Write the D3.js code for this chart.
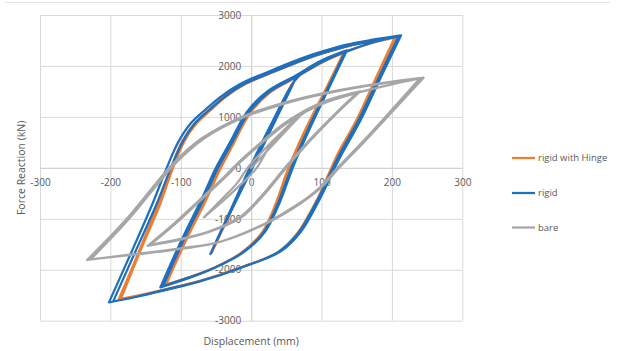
<!DOCTYPE html>
<html lang="en">
<head>
    <meta charset="UTF-8">
    <script src="https://cdnjs.cloudflare.com/ajax/libs/d3/7.8.5/d3.min.js" type="text/JavaScript"></script>
    <style>
        body { margin: 0; background: #fff; }
        text { font-family: "Open Sans", "Liberation Sans", sans-serif; fill: #595959; }
    </style>
</head>
<body>
<div id="viz"></div>
<script>
    // tick values
    const xTicks = [-300, -200, -100, 0, 100, 200, 300];
    const yTicks = [-3000, -2000, -1000, 0, 1000, 2000, 3000];

    const seriesNames = ['rigid with Hinge', 'rigid', 'bare'];

    // [displacement mm, force kN], in loading order
    const hinge = [
        [0, 0], [30, 850], [61, 1700],
        [31, 850], [0, 0], [-28, -820], [-56, -1670],
        [-28, -840], [0, 0], [31, 890], [62, 1720], [85, 1980], [107, 2140], [132, 2260],
        [107, 1530], [81, 810], [61, 200], [51, -150], [37, -700], [18, -1250], [-11, -1650], [-50, -1945], [-89, -2160], [-124, -2300],
        [-95, -1440], [-65, -600], [-45, 0], [-26, 500], [-4, 1090], [24, 1490], [63, 1800], [98, 2080], [131, 2250],
        [105, 1520], [79, 810], [59, 200], [49, -150], [35, -700], [16, -1255], [-13, -1655], [-52, -1955], [-90, -2155], [-121, -2295],
        [-93, -1440], [-63, -600], [-43, 0], [-24, 500], [-1, 1080], [27, 1480], [66, 1790], [101, 2070], [136, 2280], [172, 2450], [206, 2565],
        [180, 1800], [152, 950], [126, 300], [114, -50], [96, -600], [69, -1260], [41, -1635], [-15, -1955], [-72, -2215], [-119, -2375], [-155, -2490], [-188, -2580],
        [-160, -1660], [-132, -700], [-114, 0], [-98, 520], [-81, 865], [-61, 1125], [-40, 1385], [-13, 1640], [23, 1872], [70, 2135], [98, 2265], [136, 2410], [172, 2500], [204, 2560],
        [178, 1790], [150, 950], [124, 300], [112, -60], [94, -610], [66, -1275], [39, -1645], [-17, -1970], [-74, -2230], [-120, -2390], [-155, -2490], [-185, -2570],
        [-158, -1650], [-129, -700], [-111, 0], [-95, 520], [-78, 865], [-58, 1125], [-37, 1385], [-8, 1645], [29, 1865], [76, 2125], [104, 2255], [140, 2395], [174, 2490], [200, 2545]
    ];

    const rigid = [
        [0, 0], [30, 860], [62, 1720],
        [32, 860], [2, 0], [-28, -830], [-58, -1690],
        [-30, -850], [-2, 0], [30, 900], [63, 1730], [85, 1990], [108, 2160], [136, 2305],
        [110, 1550], [85, 820], [65, 200], [55, -150], [40, -700], [20, -1250], [-10, -1650], [-50, -1950], [-90, -2170], [-129, -2345],
        [-100, -1450], [-70, -600], [-50, 0], [-30, 500], [-6, 1100], [23, 1500], [63, 1810], [98, 2090], [134, 2290],
        [108, 1540], [83, 820], [63, 200], [53, -150], [38, -700], [18, -1260], [-12, -1660], [-52, -1960], [-90, -2160], [-125, -2320],
        [-97, -1450], [-67, -600], [-47, 0], [-27, 500], [-3, 1090], [26, 1490], [66, 1800], [101, 2080], [136, 2290], [175, 2470], [213, 2600],
        [185, 1800], [156, 950], [130, 300], [117, -50], [98, -600], [70, -1265], [42, -1640], [-15, -1960], [-72, -2220], [-119, -2380], [-160, -2520], [-202, -2640],
        [-170, -1650], [-140, -700], [-120, 0], [-103, 520], [-86, 870], [-66, 1130], [-44, 1390], [-15, 1650], [23, 1878], [70, 2140], [98, 2271], [136, 2420], [175, 2520], [210, 2595],
        [182, 1790], [153, 950], [127, 300], [114, -60], [95, -610], [67, -1280], [39, -1650], [-17, -1975], [-74, -2235], [-120, -2395], [-160, -2525], [-196, -2620],
        [-165, -1660], [-134, -700], [-114, 0], [-97, 520], [-80, 870], [-60, 1130], [-38, 1390], [-9, 1650], [29, 1870], [76, 2130], [104, 2260], [140, 2400], [178, 2500], [207, 2570]
    ];

    const bare = [
        [0, 0], [34, 500], [68, 1000],
        [50, 760], [25, 390], [8, 0], [-15, -330], [-40, -650], [-67, -970],
        [-45, -660], [-20, -300], [-5, 0], [20, 380], [45, 720], [66, 990], [100, 1280], [128, 1410], [155, 1500],
        [120, 1050], [85, 550], [50, 0], [25, -420], [0, -800], [-15, -980], [-60, -1260], [-100, -1410], [-147, -1530],
        [-110, -1100], [-75, -650], [-40, -200], [-20, 80], [10, 450], [50, 900], [100, 1280], [152, 1490],
        [118, 1040], [83, 545], [48, 0], [23, -420], [-2, -800], [-17, -980], [-62, -1260], [-102, -1400], [-144, -1515],
        [-107, -1090], [-72, -640], [-37, -190], [-17, 90], [13, 460], [53, 900], [100, 1250], [150, 1470], [200, 1640], [245, 1770],
        [202, 1125], [160, 500], [125, 0], [100, -380], [70, -700], [23, -1080], [-44, -1450], [-100, -1580], [-170, -1700], [-233, -1808],
        [-180, -1050], [-135, -300], [-110, 100], [-70, 580], [-15, 990], [40, 1250], [98, 1450], [160, 1610], [240, 1760],
        [198, 1110], [157, 490], [122, -10], [97, -390], [67, -710], [20, -1090], [-46, -1460], [-100, -1590], [-170, -1710], [-228, -1795],
        [-176, -1040], [-131, -290], [-106, 110], [-66, 585], [-11, 990], [44, 1245], [100, 1440], [160, 1600], [238, 1750]
    ];

    const colors = ['#ED7D31', '#1F6FBF', '#A6A6A6'];

    const svg = d3.select('#viz').append('svg')
        .attr('width', 621).attr('height', 351);

    svg.append('line')
        .attr('x1', 5).attr('x2', 610).attr('y1', 2.5).attr('y2', 2.5)
        .style('stroke', '#e3e3e3');

    const xScale = d3.scaleLinear().domain([-300, 300]).range([40, 462.3]);
    const yScale = d3.scaleLinear().domain([-3000, 3000]).range([320.7, 15]);

    // gridlines
    svg.append('g')
        .attr('transform', `translate(0,${yScale(-3000)})`)
        .call(d3.axisBottom(xScale).tickValues(xTicks).tickFormat('')
            .tickSize(-(yScale(-3000) - yScale(3000))).tickSizeOuter(0))
        .call(g => g.select('.domain').remove())
        .selectAll('line').style('stroke', '#d9d9d9');

    svg.append('g')
        .attr('transform', `translate(${xScale(-300)},0)`)
        .call(d3.axisLeft(yScale).tickValues(yTicks).tickFormat('')
            .tickSize(-(xScale(300) - xScale(-300))).tickSizeOuter(0))
        .call(g => g.select('.domain').remove())
        .selectAll('line').style('stroke', '#d9d9d9');

    // axes through the origin
    const xAxis = svg.append('g')
        .attr('transform', `translate(0,${yScale(0)})`)
        .call(d3.axisBottom(xScale).tickValues(xTicks).tickFormat(d => String(d))
            .tickSize(0).tickPadding(11));
    const yAxis = svg.append('g')
        .attr('transform', `translate(${xScale(0)},0)`)
        .call(d3.axisLeft(yScale).tickValues(yTicks).tickFormat(d => String(d))
            .tickSize(0).tickPadding(10));

    [xAxis, yAxis].forEach(g => {
        g.select('.domain').style('stroke', '#d0d0d0');
        g.selectAll('text').style('font-size', '10px').style('fill', '#595959')
            .style('font-family', '"Open Sans", sans-serif');
    });

    svg.append('text')
        .attr('transform', `translate(21,${yScale(0)}) rotate(-90)`)
        .attr('text-anchor', 'middle').attr('dy', '0.35em')
        .style('font-size', '10.5px')
        .text('Force Reaction (kN)');

    svg.append('text')
        .attr('x', xScale(0)).attr('y', 341)
        .attr('text-anchor', 'middle').attr('dy', '0.35em')
        .style('font-size', '10.5px')
        .text('Displacement (mm)');

    // split a loop into branches where the displacement turns back
    function branches(pts) {
        const out = [];
        let cur = [pts[0]], dir = 0;
        for (let i = 1; i < pts.length; i++) {
            const d = Math.sign(pts[i][0] - pts[i - 1][0]);
            if (dir !== 0 && d !== 0 && d !== dir) {
                out.push(cur);
                cur = [pts[i - 1]];
            }
            if (d !== 0) dir = d;
            cur.push(pts[i]);
        }
        out.push(cur);
        return out;
    }

    const line = d3.line()
        .x(d => xScale(d[0]))
        .y(d => yScale(d[1]))
        .curve(d3.curveCatmullRom.alpha(0.5));

    const series = [hinge, rigid, bare];

    svg.append('g').selectAll('path')
        .data(series).enter()
        .append('path')
        .attr('d', d => branches(d).map(b => line(b)).join(''))
        .style('fill', 'none')
        .style('stroke', (d, i) => colors[i])
        .style('stroke-width', 2.25)
        .style('stroke-linejoin', 'round')
        .style('stroke-linecap', 'round');

    // legend
    const legendY = [158, 193, 227.5];
    const legend = svg.append('g').selectAll('g')
        .data(seriesNames).enter()
        .append('g')
        .attr('transform', (d, i) => `translate(512,${legendY[i]})`);
    legend.append('line')
        .attr('x1', 0).attr('x2', 23)
        .style('stroke', (d, i) => colors[i])
        .style('stroke-width', 2.25);
    legend.append('text')
        .attr('x', 26).attr('dy', '0.35em')
        .style('font-size', '9.5px')
        .text(d => d);
</script>
</body>
</html>
